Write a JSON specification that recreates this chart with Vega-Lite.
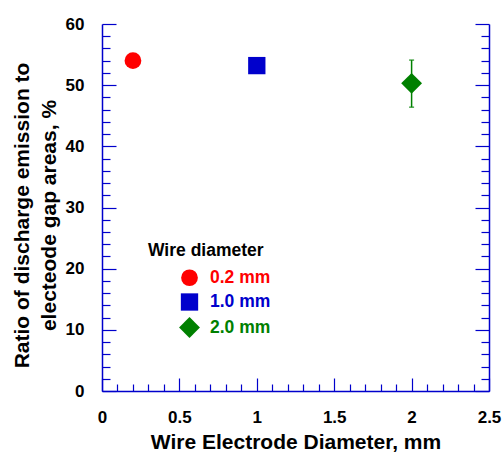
{
  "$schema": "https://vega.github.io/schema/vega-lite/v6.json",
  "width": 387,
  "height": 367,
  "autosize": "none",
  "padding": {"left": 102, "top": 24, "right": 13, "bottom": 61},
  "config": {"view": {"stroke": null}, "font": "Liberation Sans"},
  "data": {
    "values": [
      {"d": 0.2, "v": 54.0, "label": "0.2 mm"},
      {"d": 1.0, "v": 53.2, "label": "1.0 mm"},
      {"d": 2.0, "v": 50.3, "lo": 46.4, "hi": 54.1, "label": "2.0 mm"}
    ]
  },
  "encoding": {
    "x": {
      "field": "d",
      "type": "quantitative",
      "scale": {"domain": [0, 2.5], "nice": false, "zero": false},
      "axis": {
        "orient": "bottom",
        "values": [0, 0.1, 0.2, 0.3, 0.4, 0.5, 0.6, 0.7, 0.8, 0.9, 1, 1.1, 1.2, 1.3, 1.4, 1.5, 1.6, 1.7, 1.8, 1.9, 2, 2.1, 2.2, 2.3, 2.4, 2.5],
        "tickSize": {"condition": {"test": "abs(datum.value*2 - round(datum.value*2)) < 0.001", "value": -13}, "value": -7},
        "labelExpr": "abs(datum.value*2 - round(datum.value*2)) < 0.001 ? format(datum.value, '~g') : ''",
        "labelPadding": 31,
        "labelFont": "Liberation Sans",
        "labelFontSize": 17,
        "labelFontWeight": "bold",
        "labelColor": "#000000",
        "labelFlush": false,
        "labelOverlap": false,
        "domainColor": "#0000CC",
        "domainWidth": 1.5,
        "tickColor": "#0000CC",
        "tickWidth": 1.2,
        "grid": false,
        "title": "Wire Electrode Diameter, mm",
        "titleFont": "Liberation Sans",
        "titleFontSize": 21,
        "titleFontWeight": "bold",
        "titleColor": "#000000",
        "titleBaseline": "alphabetic",
        "titleX": 193.5,
        "titleY": 57
      }
    }
  },
  "layer": [
    {
      "transform": [{"filter": "isValid(datum.lo)"}],
      "mark": {"type": "rule", "color": "#008000", "strokeWidth": 1.5},
      "encoding": {
        "y": {
          "field": "lo",
          "type": "quantitative",
          "scale": {"domain": [0, 60], "nice": false, "zero": true},
          "axis": {
            "orient": "right",
            "title": null,
            "labels": false,
            "values": [0, 2, 4, 6, 8, 10, 12, 14, 16, 18, 20, 22, 24, 26, 28, 30, 32, 34, 36, 38, 40, 42, 44, 46, 48, 50, 52, 54, 56, 58, 60],
            "tickSize": {"condition": {"test": "datum.value % 10 == 0", "value": -14}, "value": -8},
            "domainColor": "#0000CC",
            "domainWidth": 1.5,
            "tickColor": "#0000CC",
            "tickWidth": 1.2,
            "grid": false
          }
        },
        "y2": {"field": "hi"}
      }
    },
    {
      "transform": [{"filter": "isValid(datum.lo)"}],
      "mark": {"type": "tick", "orient": "horizontal", "color": "#008000", "size": 5, "thickness": 1.5},
      "encoding": {"y": {"field": "lo", "type": "quantitative", "axis": null}}
    },
    {
      "transform": [{"filter": "isValid(datum.hi)"}],
      "mark": {"type": "tick", "orient": "horizontal", "color": "#008000", "size": 5, "thickness": 1.5},
      "encoding": {"y": {"field": "hi", "type": "quantitative", "axis": null}}
    },
    {
      "mark": {"type": "point", "filled": true, "opacity": 1, "strokeWidth": 0},
      "encoding": {
        "y": {
          "field": "v",
          "type": "quantitative",
          "axis": {
            "orient": "left",
            "values": [0, 2, 4, 6, 8, 10, 12, 14, 16, 18, 20, 22, 24, 26, 28, 30, 32, 34, 36, 38, 40, 42, 44, 46, 48, 50, 52, 54, 56, 58, 60],
            "tickSize": {"condition": {"test": "datum.value % 10 == 0", "value": -14}, "value": -8},
            "labelExpr": "datum.value % 10 == 0 ? toString(datum.value) : ''",
            "labelPadding": 32,
            "labelFont": "Liberation Sans",
            "labelFontSize": 17,
            "labelFontWeight": "bold",
            "labelColor": "#000000",
            "labelFlush": false,
            "labelOverlap": false,
            "domainColor": "#0000CC",
            "domainWidth": 1.5,
            "tickColor": "#0000CC",
            "tickWidth": 1.2,
            "grid": false,
            "title": ["Ratio of discharge emission to", "electeode gap areas, %"],
            "titleFont": "Liberation Sans",
            "titleFontSize": 21,
            "titleFontWeight": "bold",
            "titleColor": "#000000",
            "titleAngle": -90,
            "titleBaseline": "alphabetic",
            "titleAlign": "center",
            "titleLineHeight": 27,
            "titleX": -74,
            "titleY": 191
          }
        },
        "color": {
          "field": "label",
          "type": "nominal",
          "scale": {"domain": ["0.2 mm", "1.0 mm", "2.0 mm"], "range": ["#FF0000", "#0000CC", "#008000"]},
          "legend": {
            "orient": "none",
            "legendX": 46,
            "legendY": 218,
            "padding": 0,
            "title": "Wire diameter",
            "titleFont": "Liberation Sans",
            "titleFontSize": 17.5,
            "titleFontWeight": "bold",
            "titleColor": "#000000",
            "titlePadding": 9.5,
            "labelFont": "Liberation Sans",
            "labelFontSize": 17.5,
            "labelFontWeight": "bold",
            "labelColor": {"expr": "scale('color', datum.value)"},
            "labelOffset": 10,
            "symbolOffset": 31,
            "rowPadding": 6,
            "symbolStrokeWidth": 0
          }
        },
        "shape": {
          "field": "label",
          "type": "nominal",
          "scale": {"domain": ["0.2 mm", "1.0 mm", "2.0 mm"], "range": ["circle", "square", "diamond"]}
        },
        "size": {
          "field": "label",
          "type": "nominal",
          "scale": {"type": "ordinal", "domain": ["0.2 mm", "1.0 mm", "2.0 mm"], "range": [280, 300, 435]}
        }
      }
    }
  ],
  "resolve": {"axis": {"y": "independent"}}
}
